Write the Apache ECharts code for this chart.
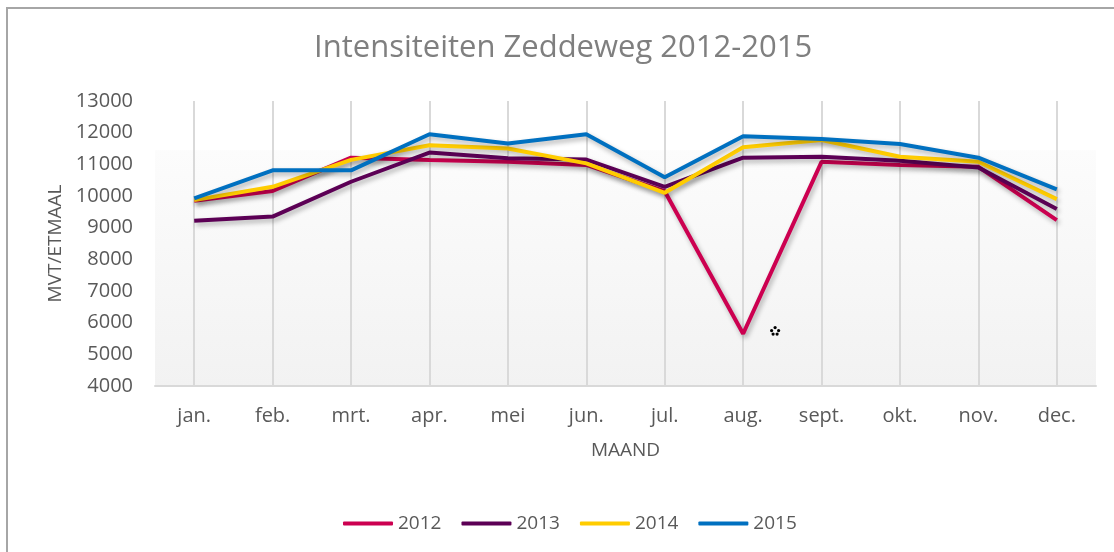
<!DOCTYPE html>
<html>
<head>
<meta charset="utf-8">
<script src="https://cdn.jsdelivr.net/npm/echarts@6/dist/echarts.min.js"></script>
<style>
  html, body { margin: 0; padding: 0; background: #fff; }
  #chart { width: 1114px; height: 552px; }
</style>
</head>
<body>
<div id="chart"></div>
<script>
const months = ['jan.', 'feb.', 'mrt.', 'apr.', 'mei', 'jun.', 'jul.', 'aug.', 'sept.', 'okt.', 'nov.', 'dec.']
const years = ['2012', '2013', '2014', '2015']
const data2012 = [9850, 10160, 11210, 11140, 11080, 10980, 10150, 5650, 11080, 10980, 10920, 9240]
const data2013 = [9220, 9350, 10450, 11370, 11190, 11150, 10290, 11210, 11240, 11110, 10900, 9590]
const data2014 = [9870, 10290, 11140, 11600, 11500, 11030, 10100, 11540, 11770, 11240, 11080, 9900]
const data2015 = [9927, 10810, 10810, 11950, 11660, 11950, 10590, 11890, 11800, 11640, 11210, 10210]
const colors = ['#CC0050', '#5C0055', '#FFCC00', '#0070C0']

const font = 'Open Sans'
const chart = echarts.init(document.getElementById('chart'))

const makeLine = (name, values, color) => ({
  name: name,
  type: 'line',
  data: values,
  symbol: 'none',
  showSymbol: false,
  lineStyle: {
    color: color,
    width: 4,
    shadowColor: 'rgba(0,0,0,0.3)',
    shadowBlur: 5,
    shadowOffsetX: 2,
    shadowOffsetY: 3
  },
  itemStyle: { color: color }
})

const option = {
  animation: false,
  title: {
    text: 'Intensiteiten Zeddeweg 2012-2015',
    left: 309,
    top: 28,
    textStyle: {
      fontFamily: font,
      fontWeight: 'normal',
      fontSize: 31,
      color: '#7f7f7f'
    }
  },
  legend: {
    left: 338,
    top: 509,
    itemWidth: 50,
    itemHeight: 4,
    itemGap: 20,
    icon: 'roundRect',
    data: years,
    textStyle: {
      fontFamily: font,
      fontSize: 19,
      color: '#595959'
    }
  },
  grid: {
    left: 155,
    width: 941,
    top: 101,
    bottom: 166,
    show: true,
    borderWidth: 0,
    backgroundColor: {
      type: 'linear',
      x: 0, y: 0, x2: 0, y2: 1,
      colorStops: [
        { offset: 0, color: '#ffffff' },
        { offset: 0.17, color: '#ffffff' },
        { offset: 0.175, color: '#fcfcfc' },
        { offset: 1, color: '#f2f2f2' }
      ]
    }
  },
  xAxis: {
    type: 'category',
    data: months,
    boundaryGap: true,
    name: 'MAAND',
    nameLocation: 'middle',
    nameGap: 55,
    nameTextStyle: {
      fontFamily: font,
      fontSize: 19,
      color: '#595959'
    },
    axisLine: { show: true, lineStyle: { color: '#d9d9d9', width: 2 } },
    axisTick: { show: false },
    axisLabel: {
      margin: 20,
      fontFamily: font,
      fontSize: 20,
      color: '#595959'
    },
    splitLine: {
      show: true,
      alignWithLabel: true,
      lineStyle: { color: '#d9d9d9', width: 2 }
    }
  },
  yAxis: {
    type: 'value',
    min: 4000,
    max: 13000,
    interval: 1000,
    name: 'MVT/ETMAAL',
    nameLocation: 'middle',
    nameGap: 88,
    nameTextStyle: {
      fontFamily: font,
      fontSize: 19,
      color: '#595959'
    },
    axisLine: { show: false },
    axisTick: { show: false },
    splitLine: { show: false },
    axisLabel: {
      margin: 22,
      fontFamily: font,
      fontSize: 20,
      color: '#595959',
      formatter: (v) => String(v)
    }
  },
  graphic: [
    {
      type: 'rect',
      shape: { x: 7, y: 8, width: 1300, height: 700 },
      style: { fill: 'none', stroke: '#a6a6a6', lineWidth: 2 },
      silent: true
    },
    {
      // five-dot mark next to the August dip
      type: 'group',
      left: 770,
      top: 326,
      children: [
        { type: 'circle', shape: { cx: 4, cy: 1.5, r: 1.6 }, style: { fill: '#000' } },
        { type: 'circle', shape: { cx: 0.5, cy: 4.5, r: 1.6 }, style: { fill: '#000' } },
        { type: 'circle', shape: { cx: 7.5, cy: 4.5, r: 1.6 }, style: { fill: '#000' } },
        { type: 'circle', shape: { cx: 2, cy: 8, r: 1.6 }, style: { fill: '#000' } },
        { type: 'circle', shape: { cx: 6, cy: 8, r: 1.6 }, style: { fill: '#000' } }
      ]
    }
  ],
  series: [
    makeLine(years[0], data2012, colors[0]),
    makeLine(years[1], data2013, colors[1]),
    makeLine(years[2], data2014, colors[2]),
    makeLine(years[3], data2015, colors[3])
  ]
}

chart.setOption(option)
</script>
</body>
</html>
